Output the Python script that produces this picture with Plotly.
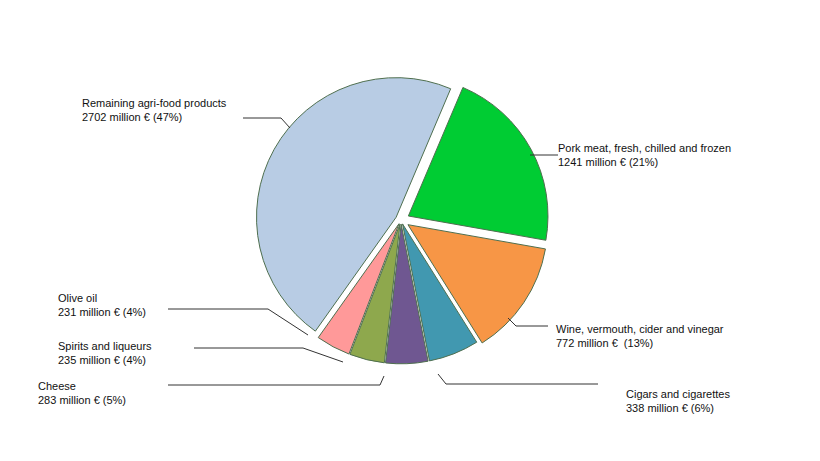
import plotly.graph_objects as go

# Data
categories = ["Pork meat, fresh, chilled and frozen", "Wine, vermouth, cider and vinegar",
              "Cigars and cigarettes", "Cheese", "Spirits and liqueurs", "Olive oil",
              "Remaining agri-food products"]
values = [1241, 772, 338, 283, 235, 231, 2702]
pct_labels = ["21%", "13%", "6%", "5%", "4%", "4%", "47%"]
colors = ["#00cc33", "#f79646", "#4198b0", "#6f5791", "#8ea84d", "#ff9999", "#b8cce4"]

W, H = 820, 461
DX, DY = -10, -8  # page offset correction
cx, cy, r = 403 + DX, 220 + DY, 148

fig = go.Figure(go.Pie(
    labels=categories, values=values, sort=False, direction="clockwise", rotation=23,
    marker=dict(colors=colors, line=dict(color="#4f6f4f", width=1)),
    pull=[0.06, 0.06, 0.03, 0.03, 0.03, 0.03, 0.04],
    textinfo="none", hoverinfo="label+value+percent", showlegend=False,
    domain=dict(x=[(cx - r) / W, (cx + r) / W], y=[1 - (cy + r) / H, 1 - (cy - r) / H]),
))

# label text position (px), anchor, leader line path (px)
label_pos = [
    (558, 155, "left", [(560, 155), (532, 155)]),
    (556, 336, "left", [(550, 326), (518, 326), (510, 318)]),
    (626, 401, "left", [(600, 384), (448, 384), (440, 374)]),
    (38, 393, "left", [(170, 385), (382, 385), (386, 376)]),
    (58, 353, "left", [(196, 348), (305, 348), (345, 362)]),
    (58, 305, "left", [(170, 309), (270, 309), (310, 335)]),
    (82, 110, "left", [(245, 118), (283, 118), (292, 128)]),
]

annotations = []
shapes = []
for cat, v, p, (x, y, anc, pts) in zip(categories, values, pct_labels, label_pos):
    gap = "  " if cat.startswith("Wine") else " "
    annotations.append(dict(
        x=(x + DX) / W, y=1 - (y + DY) / H, xref="paper", yref="paper", xanchor=anc, yanchor="middle",
        text=f"{cat}<br>{v} million €{gap}({p})", showarrow=False, align="left",
        font=dict(family="Liberation Sans, Arial", size=11, color="#111111"),
    ))
    path = "M " + " L ".join(f"{(px + DX) / W},{1 - (py + DY) / H}" for px, py in pts)
    shapes.append(dict(type="path", path=path, xref="paper", yref="paper",
                       line=dict(color="#333333", width=1)))

fig.update_layout(width=W, height=H, margin=dict(l=0, r=0, t=0, b=0),
                  paper_bgcolor="white", annotations=annotations, shapes=shapes)
fig.write_html("out.html")
